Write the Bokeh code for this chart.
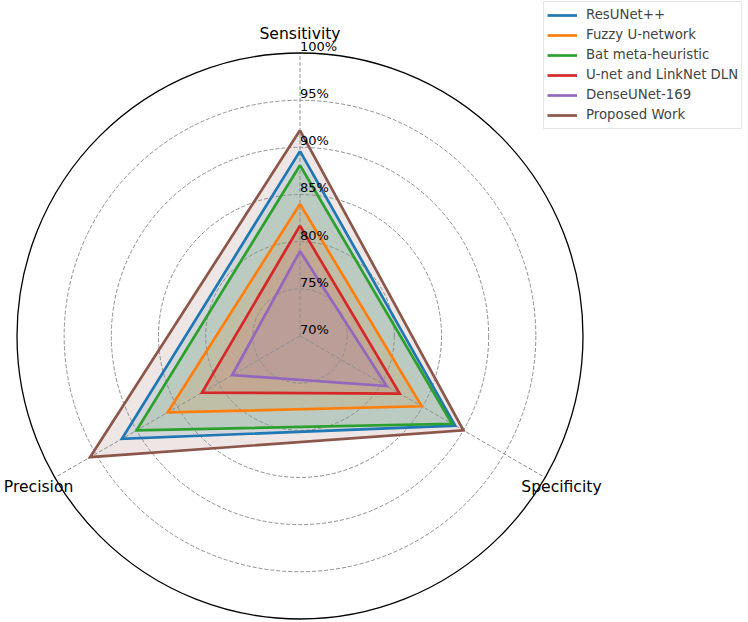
import math
from bokeh.plotting import figure
from bokeh.models import Legend, LegendItem, Range1d
from bokeh.core.properties import value
from bokeh.embed import file_html
from bokeh.resources import INLINE

# ---- data ----
categories = ["Sensitivity", "Specificity", "Precision"]
series_names = ["ResUNet++", "Fuzzy U-network", "Bat meta-heuristic",
                "U-net and LinkNet DLN", "DenseUNet-169", "Proposed Work"]
resunet = [89.6, 89.0, 91.8]
fuzzy = [84.0, 84.9, 86.2]
bat = [88.1, 88.6, 90.0]
unet_linknet = [81.7, 82.2, 82.0]
denseunet = [79.0, 80.6, 78.3]
proposed = [91.8, 90.0, 95.7]
series_values = [resunet, fuzzy, bat, unet_linknet, denseunet, proposed]
colors = ["#1f77b4", "#ff7f0e", "#2ca02c", "#d62728", "#9467bd", "#8c564b"]
tick_values = [70, 75, 80, 85, 90, 95, 100]
tick_labels = ["70%", "75%", "80%", "85%", "90%", "95%", "100%"]
r_min, r_max = 70, 100

# ---- geometry / layout ----
W, H = 748, 622
cx_px, cy_px = 299.5, 335.5
R_px = 283.0
ppu = R_px / (r_max - r_min)

angles = [math.radians(90 - 120 * i) for i in range(len(categories))]

p = figure(width=W, height=H, output_backend="svg", toolbar_location=None,
           min_border=0, outline_line_color=None,
           x_range=Range1d(-cx_px / ppu, (W - cx_px) / ppu),
           y_range=Range1d(-(H - cy_px) / ppu, cy_px / ppu))
p.axis.visible = False
p.grid.visible = False
p.background_fill_color = "white"
p.border_fill_color = "white"

def to_xy(vals):
    xs = [(v - r_min) * math.cos(a) for v, a in zip(vals, angles)]
    ys = [(v - r_min) * math.sin(a) for v, a in zip(vals, angles)]
    return xs + xs[:1], ys + ys[:1]

# fills
for vals, c in zip(series_values, colors):
    xs, ys = to_xy(vals)
    p.patch(xs, ys, fill_color=c, fill_alpha=0.15, line_color=None)

# grid rings and spokes
grid_color = "#8f8f8f"
for t in tick_values[1:-1]:
    p.circle(x=0, y=0, radius=t - r_min, fill_color=None, line_color=grid_color,
             line_width=1, line_dash="4 2")
R = r_max - r_min
p.segment(x0=[0] * 3, y0=[0] * 3,
          x1=[R * math.cos(a) for a in angles], y1=[R * math.sin(a) for a in angles],
          line_color=grid_color, line_width=1, line_dash="4 2")

# outlines
items = []
for name, vals, c in zip(series_names, series_values, colors):
    xs, ys = to_xy(vals)
    r = p.line(xs, ys, line_color=c, line_width=2.7, line_join="miter")
    items.append(LegendItem(label=name, renderers=[r]))

# outer circle
p.circle(x=0, y=0, radius=R, fill_color=None, line_color="black", line_width=1.3)

# tick labels
p.text(x=[0] * len(tick_values), y=[t - r_min + 0.7 for t in tick_values],
       text=tick_labels, text_font=value("DejaVu Sans"), text_font_size="13px",
       text_align="left", text_baseline="middle", text_color="black")

# category labels
lab_r = 32.0
p.text(x=[lab_r * math.cos(a) for a in angles], y=[lab_r * math.sin(a) for a in angles],
       text=categories, text_font=value("DejaVu Sans"), text_font_size="15.6px",
       text_align="center", text_baseline="middle", text_color="black")

legend = Legend(items=items, location=(543, H - 128.5), margin=0, padding=3,
                spacing=0, glyph_width=30, glyph_height=20, label_height=20,
                label_standoff=9, label_text_font="DejaVu Sans",
                label_text_font_size="13.3px", border_line_color="#cccccc",
                border_line_width=1, background_fill_alpha=0.8)
p.add_layout(legend)

open("out.html", "w").write(file_html(p, INLINE))
